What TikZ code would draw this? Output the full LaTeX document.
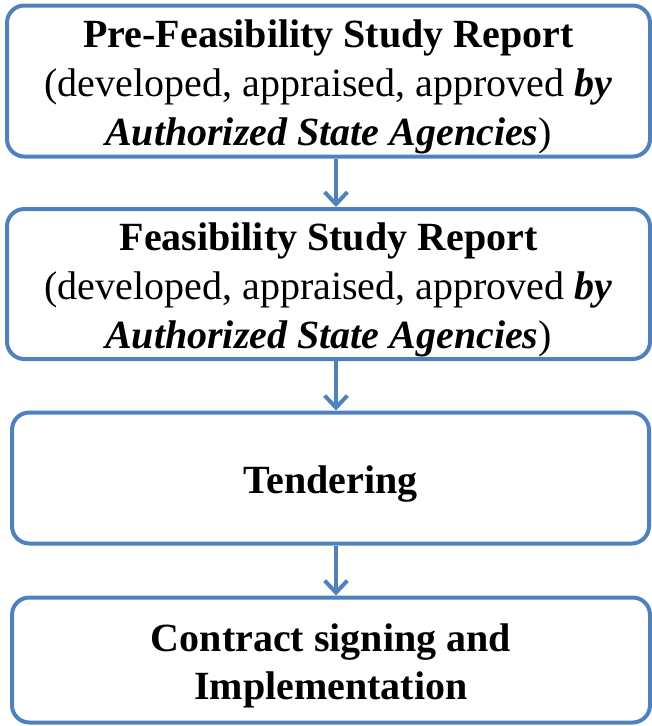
\documentclass[tikz,border=0pt]{standalone}
\usepackage{fontspec}
\setmainfont{Liberation Serif}
\usetikzlibrary{arrows.meta}
\definecolor{boxblue}{HTML}{4F81BD}
\begin{document}
\begin{tikzpicture}[x=0.75pt, y=-0.75pt,
		stagebox/.style={draw=boxblue, line width=3pt, rounded corners=13pt, inner sep=0pt},
		stagetext/.style={align=center, font=\fontsize{30}{36.5}\selectfont, inner sep=0pt, yshift=-4.5pt},
		flowarrow/.style={draw=boxblue, line width=3pt, -{Straight Barb[length=9pt, width=17pt, line width=3pt]}}]
			\useasboundingbox (0, 0) rectangle (652, 726);
			%%draw the boxes
			\node[stagebox, minimum width=643*0.75pt, minimum height=151*0.75pt] (prefs) at (328.5, 81){};
				\node[stagetext] (prefstext) at (prefs)
					{\textbf{Pre-Feasibility Study Report}\\(developed, appraised, approved \textbf{\textit{by}}\\\textbf{\textit{Authorized State Agencies}})};
			\node[stagebox, minimum width=643*0.75pt, minimum height=150*0.75pt] (fs) at (328.5, 284){};
				\node[stagetext] (fstext) at (fs)
					{\textbf{Feasibility Study Report}\\(developed, appraised, approved \textbf{\textit{by}}\\\textbf{\textit{Authorized State Agencies}})};
			\node[stagebox, minimum width=637*0.75pt, minimum height=131*0.75pt] (tender) at (330.5, 478){};
				\node[stagetext] (tendertext) at (tender) {\textbf{Tendering}};
			\node[stagebox, minimum width=638*0.75pt, minimum height=125*0.75pt] (contract) at (331, 660){};
				\node[stagetext] (contracttext) at (contract)
					{\textbf{Contract signing and}\\\textbf{Implementation}};

			%%draw the arrows
			\draw[flowarrow] (prefs.south -| 336, 0) to (fs.north -| 336, 0);
			\draw[flowarrow] (fs.south -| 336, 0) to (tender.north -| 336, 0);
			\draw[flowarrow] (tender.south -| 336, 0) to (contract.north -| 336, 0);
		\end{tikzpicture}
\end{document}
